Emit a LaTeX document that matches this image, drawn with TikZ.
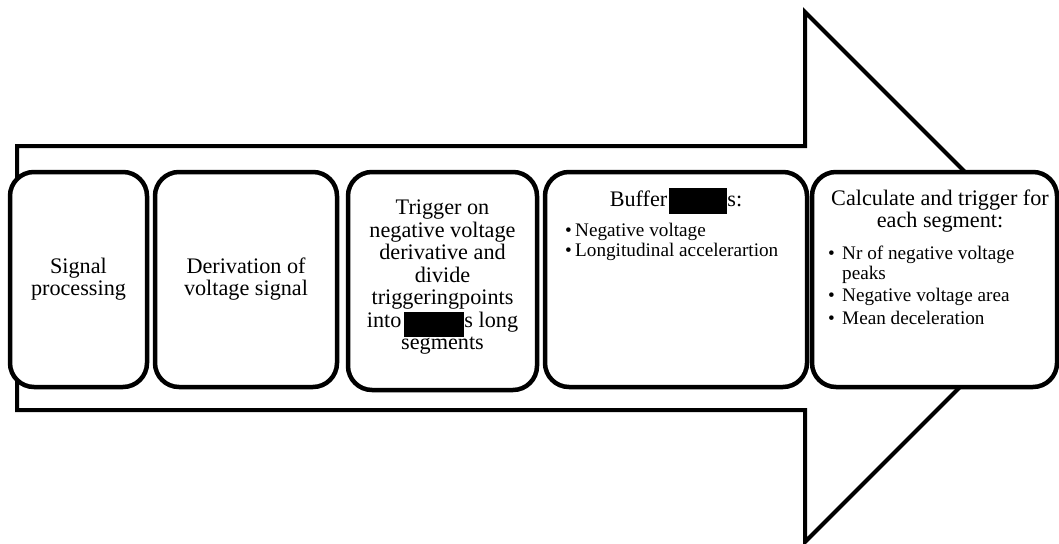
\documentclass[tikz,border=0pt]{standalone}
\usepackage{fontspec}
\setmainfont{Liberation Serif}
\tikzset{
  arrowshape/.style={draw=black, line width=4pt, line join=miter},
  stage/.style={draw=black, line width=4.5pt, fill=white, rounded corners=24pt, inner sep=0pt},
  bigtext/.style={font=\fontsize{22.2}{22.5}\selectfont, align=center, inner sep=0pt},
  smalltext/.style={font=\fontsize{19.2}{20}\selectfont, align=left, inner sep=0pt},
}
\newcommand{\bulA}{\makebox[10pt][l]{\textbullet}}
\newcommand{\bulB}{\makebox[14pt][l]{\textbullet}}
\begin{document}
\begin{tikzpicture}[x=1pt,y=-1pt]
\useasboundingbox (0,0) rectangle (1059,543);
\clip (0,0) rectangle (1059,543);
% big arrow
\coordinate (a1) at (17,146);
\coordinate (a2) at (805,146);
\coordinate (a3) at (805,12);
\coordinate (tip) at (1070,277);
\coordinate (a5) at (805,542);
\coordinate (a6) at (805,410);
\coordinate (a7) at (17,410);
\draw[arrowshape] (a1) -- (a2) -- (a3) -- (tip) -- (a5) -- (a6) -- (a7) -- cycle;
% stages
\node[stage, minimum width=137pt, minimum height=215pt] (b1) at (78.5,279.5) {};
\node[stage, minimum width=182pt, minimum height=215pt] (b2) at (246,279.5) {};
\node[stage, minimum width=189pt, minimum height=218pt] (b3) at (442.5,281) {};
\node[stage, minimum width=262pt, minimum height=215pt] (b4) at (676,279.5) {};
\node[stage, minimum width=245pt, minimum height=215pt] (b5) at (934.5,279.5) {};
% texts
\node[bigtext] (t1) at (78.5,279) {Signal\\processing};
\node[bigtext] (t2) at (246,279) {Derivation of\\voltage signal};
\node[bigtext] (t3) at (442.5,277.5) {Trigger on\\negative voltage\\derivative and\\divide\\triggeringpoints\\into\hspace{3pt}\rule[-10pt]{60pt}{25pt}s long\\segments};
\node[bigtext, anchor=base] (t4) at (676,206) {Buffer\hspace{2pt}\rule[-8pt]{58pt}{26pt}s:};
\node[smalltext, anchor=west] (t4b) at (565,241.5) {\bulA Negative voltage\\\bulA Longitudinal accelerartion};
\node[bigtext] (t5) at (940,211) {Calculate and trigger for\\each segment:};
\node[smalltext, anchor=west] (t5b) at (828,285) {\bulB Nr of negative voltage\\\hspace*{14pt}peaks\\[2.5pt]\bulB Negative voltage area\\[2.5pt]\bulB Mean deceleration};
\end{tikzpicture}
\end{document}
